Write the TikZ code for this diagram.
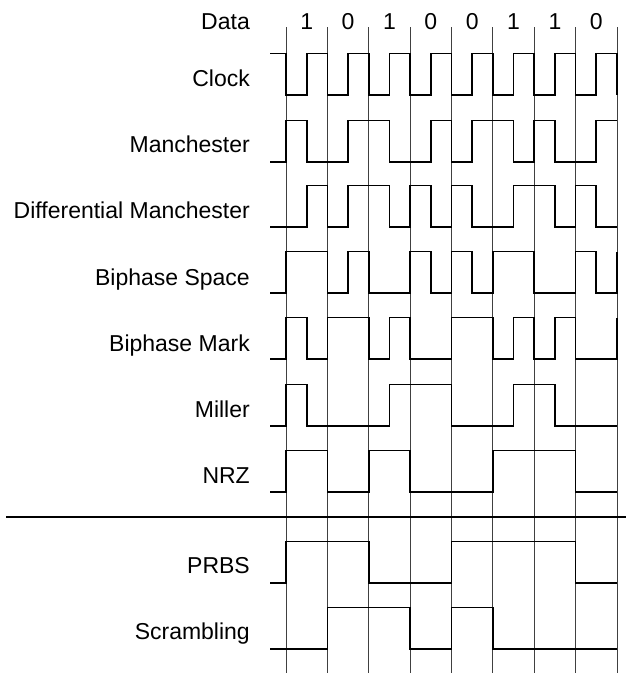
\documentclass[tikz,border=0pt]{standalone}
\usepackage{fontspec}
\setmainfont{Liberation Sans}
\usepackage{tikz}
\newcommand{\labelfont}{\fontsize{23}{27}\selectfont}
% #1 = y of low level, #2 = level before start, #3 = the 16 half-bit levels, #4 = level at the end
\newcommand{\sigwave}[4]{%
  \draw[sig] (270,#1-41.5*#2) -- (286,#1-41.5*#2)
    \foreach \l [count=\i from 0] in {#3} { -- (286+20.6875*\i,#1-41.5*\l) -- (306.6875+20.6875*\i,#1-41.5*\l) }
    -- (617,#1-41.5*#4);
}

\begin{document}
\begin{tikzpicture}[x=1pt, y=-1pt,
  lbl/.style={anchor=base east, font=\labelfont, inner sep=0pt},
  bit/.style={anchor=base, font=\labelfont, inner sep=0pt},
  gridline/.style={line width=0.9pt, black!75},
  sig/.style={line width=1.7pt, line join=miter},
  sep/.style={line width=1.4pt}
]
\useasboundingbox (0,0) rectangle (626,673);

% bit cells
\foreach \k in {0,...,8}
  \draw[gridline] (286+41.375*\k,27) -- (286+41.375*\k,673);

% labels
\node[lbl] (data)      at (250,29)  {Data};
\node[lbl] (clock)     at (250,86)  {Clock};
\node[lbl] (manch)     at (250,152) {Manchester};
\node[lbl] (diffmanch) at (250,218) {Differential Manchester};
\node[lbl] (bphspace)  at (250,285) {Biphase Space};
\node[lbl] (bphmark)   at (250,351) {Biphase Mark};
\node[lbl] (miller)    at (250,417) {Miller};
\node[lbl] (nrz)       at (250,483) {NRZ};
\node[lbl] (prbs)      at (250,573) {PRBS};
\node[lbl] (scramb)    at (250,639) {Scrambling};

\foreach \b [count=\k from 0] in {1,0,1,0,0,1,1,0}
  \node[bit] (bit\k) at (306.6875+41.375*\k,29) {\b};

% waveforms
\sigwave{95}{1}{0,1,0,1,0,1,0,1,0,1,0,1,0,1,0,1}{0}
\sigwave{162}{0}{1,0,0,1,1,0,0,1,0,1,1,0,1,0,0,1}{1}
\sigwave{227}{0}{0,1,0,1,1,0,1,0,1,0,0,1,1,0,1,0}{0}
\sigwave{293}{0}{1,1,0,1,0,0,1,0,1,0,1,1,0,0,1,0}{1}
\sigwave{359}{0}{1,0,1,1,0,1,0,0,1,1,0,1,0,1,0,0}{1}
\sigwave{426}{0}{1,0,0,0,0,1,1,1,0,0,0,1,1,0,0,0}{0}
\sigwave{492}{0}{1,1,0,0,1,1,0,0,0,0,1,1,1,1,0,0}{0}

\draw[sep] (6,517) -- (626,517);

\sigwave{583}{0}{1,1,1,1,0,0,0,0,1,1,1,1,1,1,0,0}{0}
\sigwave{649}{0}{0,0,1,1,1,1,0,0,1,1,0,0,0,0,0,0}{0}
\end{tikzpicture}
\end{document}
